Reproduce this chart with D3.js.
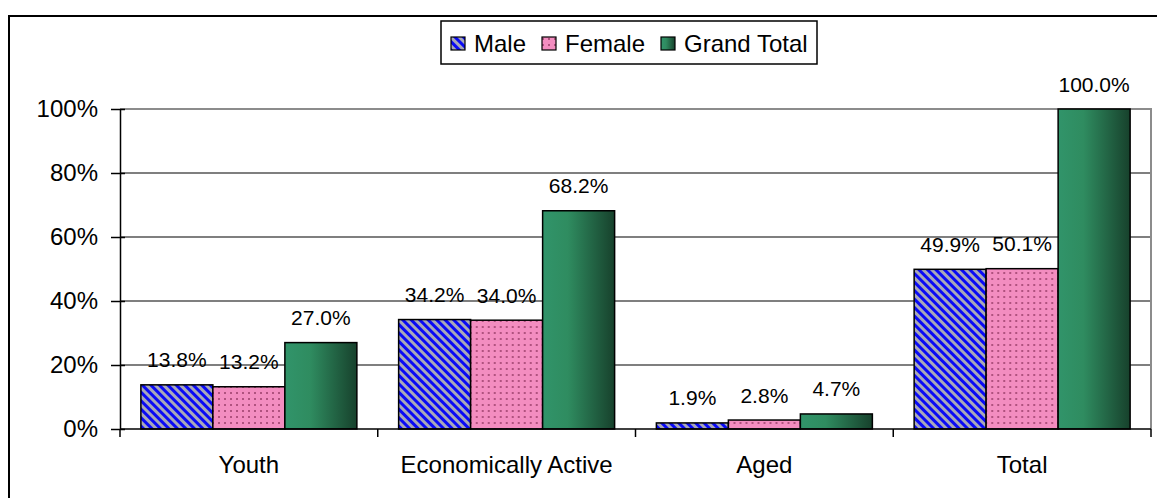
<!DOCTYPE html>
<html><head><meta charset="utf-8">
<script src="https://cdn.jsdelivr.net/npm/d3@7"></script>
<style>html,body{margin:0;padding:0;background:#fff;}svg{display:block;font-family:Arial,"Liberation Sans",sans-serif;}</style>
</head><body><div id="chart"></div>
<script>
const categories = ["Youth", "Economically Active", "Aged", "Total"];
const seriesNames = ["Male", "Female", "Grand Total"];
const male = [13.8, 34.2, 1.9, 49.9];
const female = [13.2, 34.0, 2.8, 50.1];
const grandTotal = [27.0, 68.2, 4.7, 100.0];
const yTicks = [0, 20, 40, 60, 80, 100];

(function(){
const W = 1157, H = 498;
const svg = d3.select("#chart").append("svg").attr("width", W).attr("height", H);
const defs = svg.append("defs");

// patterns
const pm = defs.append("pattern").attr("id","pMale").attr("patternUnits","userSpaceOnUse")
  .attr("width",6).attr("height",6).attr("patternTransform","rotate(-45)");
pm.append("rect").attr("width",6).attr("height",6).attr("fill","#a8a8b8");
pm.append("rect").attr("width",3).attr("height",6).attr("fill","#0a0af5");

const pf = defs.append("pattern").attr("id","pFemale").attr("patternUnits","userSpaceOnUse")
  .attr("width",6).attr("height",6);
pf.append("rect").attr("width",6).attr("height",6).attr("fill","#f38dc0");
pf.append("rect").attr("x",2).attr("y",2).attr("width",2).attr("height",2).attr("fill","#b0527f");

const g = defs.append("linearGradient").attr("id","gGreen").attr("x1",0).attr("x2",1).attr("y1",0).attr("y2",0);
g.append("stop").attr("offset","0%").attr("stop-color","#31946a");
g.append("stop").attr("offset","35%").attr("stop-color","#2f8c60");
g.append("stop").attr("offset","100%").attr("stop-color","#17412c");

const fills = ["url(#pMale)","url(#pFemale)","url(#gGreen)"];
const values = [male, female, grandTotal];

// outer border
svg.append("rect").attr("x",9).attr("y",16).attr("width",1300).attr("height",700)
  .attr("fill","none").attr("stroke","#000").attr("stroke-width",2);

const pLeft = 120, pRight = 1151, pTop = 109, pBottom = 429;
const y = d3.scaleLinear().domain([0,100]).range([pBottom, pTop]);
const x0 = d3.scaleBand().domain(categories).range([pLeft, pRight]).padding(0);
const x1 = d3.scaleBand().domain(seriesNames).range([0, x0.bandwidth()]).paddingInner(0).paddingOuter(0.29);

// gridlines
svg.append("g").selectAll("line").data(yTicks.filter(d => d > 0 && d < 100)).join("line")
  .attr("x1", pLeft).attr("x2", pRight).attr("y1", d => y(d)).attr("y2", d => y(d))
  .attr("stroke","#000").attr("stroke-width",1.2);
// plot border top/right gray
svg.append("path").attr("d", `M${pLeft},${y(100)}H${pRight}V${pBottom}`)
  .attr("fill","none").attr("stroke","#8c8c8c").attr("stroke-width",2);

// bars
const groups = svg.append("g").selectAll("g").data(categories).join("g")
  .attr("transform", d => `translate(${x0(d)},0)`);
groups.each(function(cat, ci){
  const gg = d3.select(this);
  seriesNames.forEach((s, si) => {
    const v = values[si][ci];
    gg.append("rect").attr("x", x1(s)).attr("y", y(v)).attr("width", x1.bandwidth())
      .attr("height", y(0) - y(v)).attr("fill", fills[si]).attr("stroke","#000").attr("stroke-width",1.5);
    gg.append("text").attr("x", x1(s) + x1.bandwidth()/2).attr("y", y(v) - 17.5)
      .attr("text-anchor","middle").attr("font-size","21px").attr("fill","#000")
      .text(v.toFixed(1) + "%");
  });
});

// y axis
const yAxis = d3.axisLeft(y).tickValues(yTicks).tickFormat(d => d + "%").tickSizeInner(9).tickSizeOuter(0).tickPadding(13);
const ya = svg.append("g").attr("transform", `translate(${pLeft},0)`).call(yAxis);
ya.select(".domain").attr("stroke","#000").attr("stroke-width",1.5);
ya.selectAll(".tick line").attr("stroke","#000").attr("stroke-width",1.5).attr("x2",-9).attr("x1",5);
ya.selectAll(".tick text").attr("font-size","24px").attr("font-family","Arial, 'Liberation Sans', sans-serif").attr("fill","#000");

// x axis
svg.append("line").attr("x1", pLeft).attr("x2", pRight).attr("y1", pBottom).attr("y2", pBottom)
  .attr("stroke","#000").attr("stroke-width",1.5);
const bounds = categories.map(c => x0(c)).concat([pRight]);
svg.append("g").selectAll("line").data(bounds).join("line")
  .attr("x1", d => d).attr("x2", d => d).attr("y1", pBottom).attr("y2", pBottom + 8)
  .attr("stroke","#000").attr("stroke-width",1.5);
svg.append("g").selectAll("text").data(categories).join("text")
  .attr("x", d => x0(d) + x0.bandwidth()/2).attr("y", 473).attr("text-anchor","middle")
  .attr("font-size","24px").attr("fill","#000").text(d => d);

// legend
const lg = svg.append("g");
lg.append("rect").attr("x",441).attr("y",21).attr("width",376).attr("height",43)
  .attr("fill","#fff").attr("stroke","#000").attr("stroke-width",1.5);
const legX = [451, 542, 661];
seriesNames.forEach((s, i) => {
  lg.append("rect").attr("x", legX[i]).attr("y", 37).attr("width", 14).attr("height", 13)
    .attr("fill", fills[i]).attr("stroke","#000").attr("stroke-width",1.2);
  lg.append("text").attr("x", legX[i] + 23).attr("y", 52).attr("font-size","24px").attr("fill","#000").text(s);
});
})();
</script></body></html>
